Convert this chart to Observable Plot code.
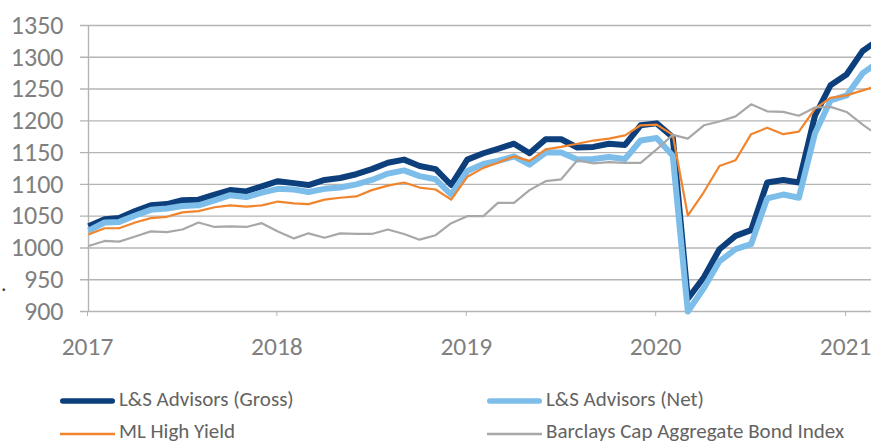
<!DOCTYPE html>
<html>
<head>
<meta charset="utf-8">
<script src="https://cdn.jsdelivr.net/npm/d3@7"></script>
<script src="https://cdn.jsdelivr.net/npm/@observablehq/plot@0.6"></script>
<style>
  html, body { margin: 0; padding: 0; background: #fff; overflow: hidden; }
  #wrap { position: relative; width: 871px; height: 443px; }
  #legend { position: absolute; left: 0; top: 0; width: 871px; height: 443px; pointer-events: none;
    font-family: "Carlito", "Liberation Sans Narrow", "Liberation Sans", Arial, sans-serif; font-size: 21px; color: #636363; }
  .sw { position: absolute; display: block; }
  .lab { position: absolute; white-space: nowrap; line-height: 24px; height: 24px; }
  #dot { position: absolute; left: 1px; top: 272px; font-family: Carlito, sans-serif; font-size: 22px; color: #404040; line-height: 24px; }
</style>
</head>
<body>
<div id="wrap"><div id="chart"></div><div id="legend"></div><div id="dot">.</div></div>
<script>
// Monthly index values, Jan 2017 .. Mar 2021
const startYear = 2017;
const seriesNames = ["L&S Advisors (Gross)", "L&S Advisors (Net)", "ML High Yield", "Barclays Cap Aggregate Bond Index"];
const gross = [1034,1045,1047,1058,1067,1069,1075,1076,1084,1091,1089,1097,
               1105,1102,1099,1107,1110,1116,1124,1134,1139,1129,1124,1099,
               1139,1149,1156,1164,1149,1171,1171,1158,1159,1164,1162,1193,
               1196,1174,920,954,998,1019,1028,1103,1107,1103,1208,1256,
               1273,1310,1326];
const net =   [1027,1040,1041,1051,1060,1062,1066,1067,1075,1083,1080,1087,
               1093,1092,1088,1093,1095,1100,1107,1117,1122,1113,1108,1084,
               1121,1132,1137,1144,1131,1150,1150,1139,1140,1143,1140,1169,
               1173,1145,900,937,979,998,1006,1078,1084,1079,1180,1232,
               1240,1275,1291];
const highYield = [1021,1031,1031,1040,1047,1049,1056,1058,1064,1067,1065,1067,
               1073,1070,1069,1076,1079,1081,1091,1098,1103,1095,1092,1076,
               1112,1126,1134,1144,1137,1155,1159,1164,1169,1172,1177,1193,
               1194,1178,1051,1088,1129,1138,1179,1189,1179,1183,1219,1236,
               1240,1248,1255];
const aggBond = [1003,1011,1010,1018,1026,1025,1029,1040,1033,1034,1033,1039,
               1026,1015,1023,1016,1023,1022,1022,1029,1022,1013,1020,1039,
               1050,1050,1071,1071,1091,1105,1108,1138,1133,1135,1134,1134,
               1155,1178,1172,1193,1199,1207,1226,1215,1214,1208,1221,1222,
               1214,1194,1178];
const yTicks = [900,950,1000,1050,1100,1150,1200,1250,1300,1350];
const xTickYears = [2017,2018,2019,2020,2021];

const colors = ["#0c3f7c", "#7dbde9", "#f0852e", "#a8a8a8"];
const widths = [6, 6, 2.2, 2.2];
const allSeries = [gross, net, highYield, aggBond];

const rows = [];
allSeries.forEach((vals, s) => {
  vals.forEach((v, i) => rows.push({series: seriesNames[s], date: new Date(Date.UTC(startYear, i, 1)), value: v}));
});
const xTicks = xTickYears.map(y => new Date(Date.UTC(y, 0, 1)));

const marks = [
  Plot.ruleY(yTicks, {stroke: "#b4b4b4", strokeWidth: 1.4}),
  Plot.ruleX([xTicks[0]], {y1: 900, y2: 1350, stroke: "#b4b4b4", strokeWidth: 1.4}),
];
seriesNames.forEach((name, s) => {
  marks.push(Plot.line(rows.filter(d => d.series === name), {
    x: "date", y: "value", stroke: colors[s], strokeWidth: widths[s],
    strokeLinejoin: "round", strokeLinecap: "butt"
  }));
});
marks.push(
  Plot.axisY({ticks: yTicks, tickSize: 0, tickPadding: 17, fontSize: 26, color: "#7f7f7f", label: null, anchor: "left", tickFormat: d => String(d)}),
  Plot.axisX({ticks: xTicks, tickSize: 5, tickPadding: 20, fontSize: 25.5, dx: -1, color: "#7f7f7f", label: null, tickFormat: d3.utcFormat("%Y"), stroke: "#b4b4b4"})
);

const chart = Plot.plot({
  width: 871,
  height: 365,
  marginLeft: 80,
  marginRight: 0,
  marginTop: 25,
  marginBottom: 54,
  style: {fontFamily: "Carlito, 'Liberation Sans', Arial, sans-serif", background: "white", overflow: "visible"},
  x: {type: "utc", domain: [new Date(Date.UTC(2017,0,1)), new Date(Date.UTC(2021,1,18))], range: [88, 871]},
  y: {domain: [900, 1350], range: [311, 25]},
  marks
});
document.getElementById("chart").appendChild(chart);

// Legend
const legendPos = [
  {sx: 60, ex: 115, ly: 401, tx: 119, ty: 386.5, w: 5.5},
  {sx: 487, ex: 542, ly: 401, tx: 546, ty: 386.5, w: 5.5},
  {sx: 60, ex: 115, ly: 434, tx: 119, ty: 418.5, w: 2.6},
  {sx: 487, ex: 542, ly: 434, tx: 546, ty: 418.5, w: 2.6}
];
const legend = document.getElementById("legend");
seriesNames.forEach((name, s) => {
  const p = legendPos[s];
  const w = p.ex - p.sx + 8;
  const sw = document.createElementNS("http://www.w3.org/2000/svg", "svg");
  sw.setAttribute("class", "sw");
  sw.setAttribute("width", w);
  sw.setAttribute("height", 12);
  sw.style.left = (p.sx - 4) + "px";
  sw.style.top = (p.ly - 6) + "px";
  sw.innerHTML = `<line x1="${4 + (s < 2 ? p.w/2 : 0)}" y1="6" x2="${w - 4 - (s < 2 ? p.w/2 : 0)}" y2="6" stroke="${colors[s]}" stroke-width="${p.w}" stroke-linecap="${s < 2 ? 'round' : 'butt'}"/>`;
  legend.appendChild(sw);
  const lab = document.createElement("div");
  lab.className = "lab";
  lab.style.left = p.tx + "px";
  lab.style.top = p.ty + "px";
  lab.textContent = name;
  legend.appendChild(lab);
});
</script>
</body>
</html>
